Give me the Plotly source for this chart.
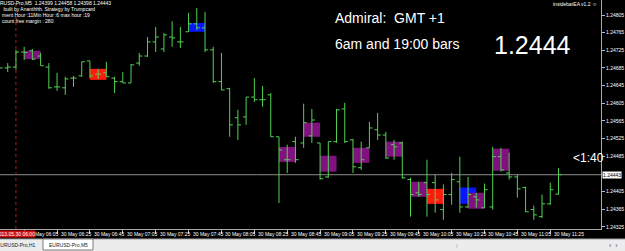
import plotly.graph_objects as go
import pandas as pd

# ---------------- data ----------------
bar_start = "2013-05-30 05:50"
n_bars = 69
opens = [1.24685, 1.24685, 1.24687, 1.24721, 1.24724, 1.24712, 1.24687, 1.24642, 1.24640, 1.24662,
         1.24667, 1.24701, 1.24671, 1.24674, 1.24662, 1.24654, 1.24651, 1.24696, 1.24712, 1.24744,
         1.24728, 1.24755, 1.24744, 1.24767, 1.24785, 1.24776, 1.24726, 1.24654, 1.24638, 1.24572,
         1.24574, 1.24619, 1.24613, 1.24624, 1.24529, 1.24477, 1.24518, 1.24515, 1.24531, 1.24515,
         1.24438, 1.24518, 1.24592, 1.24522, 1.24459, 1.24504, 1.24545, 1.24533, 1.24511, 1.24515,
         1.24432, 1.24402, 1.24425, 1.24425, 1.24364, 1.24398, 1.24427, 1.24370, 1.24393, 1.24368,
         1.24370, 1.24484, 1.24447, 1.24438, 1.24414, 1.24364, 1.24348, 1.24377, 1.24399]
highs = [1.24696, 1.24696, 1.24726, 1.24733, 1.24728, 1.24719, 1.24696, 1.24674, 1.24665, 1.24667,
         1.24699, 1.24701, 1.24683, 1.24699, 1.24665, 1.24676, 1.24694, 1.24719, 1.24755, 1.24778,
         1.24764, 1.24791, 1.24778, 1.24810, 1.24821, 1.24812, 1.24733, 1.24719, 1.24640, 1.24590,
         1.24619, 1.24662, 1.24644, 1.24628, 1.24529, 1.24511, 1.24529, 1.24604, 1.24592, 1.24515,
         1.24518, 1.24592, 1.24606, 1.24524, 1.24518, 1.24563, 1.24583, 1.24540, 1.24522, 1.24518,
         1.24436, 1.24427, 1.24477, 1.24443, 1.24421, 1.24447, 1.24484, 1.24438, 1.24402, 1.24423,
         1.24506, 1.24504, 1.24493, 1.24443, 1.24416, 1.24373, 1.24398, 1.24425, 1.24458]
lows = [1.24669, 1.24676, 1.24681, 1.24703, 1.24703, 1.24690, 1.24638, 1.24633, 1.24624, 1.24642,
        1.24665, 1.24662, 1.24660, 1.24665, 1.24628, 1.24651, 1.24651, 1.24690, 1.24710, 1.24721,
        1.24721, 1.24733, 1.24730, 1.24767, 1.24771, 1.24721, 1.24651, 1.24635, 1.24529, 1.24522,
        1.24556, 1.24608, 1.24597, 1.24529, 1.24379, 1.24447, 1.24470, 1.24504, 1.24515, 1.24432,
        1.24436, 1.24515, 1.24515, 1.24447, 1.24454, 1.24504, 1.24522, 1.24479, 1.24477, 1.24434,
        1.24348, 1.24393, 1.24348, 1.24357, 1.24341, 1.24375, 1.24357, 1.24368, 1.24368, 1.24368,
        1.24364, 1.24450, 1.24432, 1.24391, 1.24359, 1.24341, 1.24345, 1.24375, 1.24398]
closes = [1.24685, 1.24687, 1.24721, 1.24720, 1.24705, 1.24690, 1.24640, 1.24642, 1.24660, 1.24662,
          1.24699, 1.24667, 1.24671, 1.24665, 1.24654, 1.24651, 1.24692, 1.24712, 1.24744, 1.24755,
          1.24760, 1.24753, 1.24744, 1.24785, 1.24776, 1.24726, 1.24654, 1.24635, 1.24556, 1.24556,
          1.24619, 1.24613, 1.24613, 1.24529, 1.24499, 1.24477, 1.24477, 1.24561, 1.24567, 1.24434,
          1.24518, 1.24590, 1.24518, 1.24461, 1.24477, 1.24549, 1.24533, 1.24481, 1.24506, 1.24436,
          1.24398, 1.24398, 1.24398, 1.24386, 1.24398, 1.24432, 1.24370, 1.24398, 1.24386, 1.24409,
          1.24484, 1.24454, 1.24438, 1.24411, 1.24359, 1.24352, 1.24377, 1.24409, 1.24443]

# inside-bar boxes: start bar time, end bar time, top, bottom, colour
box_start = ["06:05", "06:45", "07:45", "08:40", "08:55", "09:05", "09:25", "09:45",
             "10:00", "10:10", "10:30", "10:35", "10:50"]
box_end = ["06:15", "06:55", "07:55", "08:50", "09:05", "09:15", "09:35", "09:55",
           "10:10", "10:20", "10:40", "10:45", "11:00"]
box_top = [1.24724, 1.24683, 1.24787, 1.24506, 1.24561, 1.24486, 1.24504, 1.24518,
           1.24427, 1.24411, 1.24414, 1.24402, 1.24502]
box_bottom = [1.24705, 1.24658, 1.24767, 1.24472, 1.24529, 1.24450, 1.24470, 1.24484,
              1.24393, 1.24377, 1.24377, 1.24366, 1.24452]
box_kind = ["purple", "red", "blue", "purple", "purple", "purple", "purple", "purple",
            "purple", "red", "blue", "purple", "purple"]

price_ticks = [1.24805, 1.24765, 1.24725, 1.24685, 1.24645, 1.24605, 1.24565, 1.24525,
               1.24485, 1.24405, 1.24365, 1.24325]
current_price = 1.24443
current_label = "1.24443"
time_ticks = ["06:05", "06:25", "06:45", "07:05", "07:25", "07:45", "08:05", "08:25", "08:45",
              "09:05", "09:25", "09:45", "10:05", "10:25", "10:45", "11:05", "11:25"]
time_tick_labels = ["30 May " + t for t in time_ticks]
vline_time = "06:00"
vline_label = "2013.05.30 06:00"
day = "2013-05-30 "

header_lines = ["EURUSD-Pro,M5  1.24399 1.24458 1.24398 1.24443",
                " built by Ananthhh. Strategy by Trumpcard",
                "ment Hour :11Min Hour :6 max hour :19",
                "count free margin : 280"]

# ---------------- figure ----------------
W, H = 625, 251
ML, MR, MT, MB = 0, 24, 0, 22
PW, PH = W - ML - MR, H - MT - MB


def px(x):
    return (x - ML) / PW


def py(y):
    return 1 - (y - MT) / PH


times = pd.date_range(bar_start, periods=n_bars, freq="5min")
green = "#52d352"

fig = go.Figure()
fig.add_trace(go.Ohlc(
    x=times, open=opens, high=highs, low=lows, close=closes,
    increasing=dict(line=dict(color=green, width=1)),
    decreasing=dict(line=dict(color=green, width=1)),
    tickwidth=0.38, showlegend=False, hoverinfo="skip"))

box_colors = {"purple": "#80117f", "red": "#ff1a10", "blue": "#0a14ff"}
shapes = []
for s, e, t, b, k in zip(box_start, box_end, box_top, box_bottom, box_kind):
    shapes.append(dict(type="rect", xref="x", yref="y", x0=day + s, x1=day + e,
                       y0=b, y1=t, xshift=0, fillcolor=box_colors[k], line=dict(width=0),
                       layer="below"))
# current price line
shapes.append(dict(type="line", xref="paper", yref="y", x0=0, x1=1,
                   y0=current_price, y1=current_price,
                   line=dict(color="#8c8c8c", width=1), layer="below"))
# vertical separator
shapes.append(dict(type="line", xref="x", yref="paper", x0=day + vline_time, x1=day + vline_time,
                   y0=0, y1=1, line=dict(color="#b01c1c", width=1, dash="dot"), layer="below"))
# bottom tab bar
shapes.append(dict(type="rect", xref="paper", yref="paper", x0=px(0), x1=px(W),
                   y0=py(H), y1=py(239), fillcolor="#ececec", line=dict(width=0)))
shapes.append(dict(type="line", xref="paper", yref="paper", x0=px(0), x1=px(W),
                   y0=py(239), y1=py(239), line=dict(color="#a0a0a0", width=1)))
# active tab
shapes.append(dict(type="rect", xref="paper", yref="paper", x0=px(43), x1=px(93),
                   y0=py(250), y1=py(239), fillcolor="#ffffff",
                   line=dict(color="#7a7a7a", width=1)))
for s in shapes:
    s.pop("xshift", None)

ann = []
font_small = dict(family="Liberation Sans, Arial", size=5, color="#ffffff")
for i, line in enumerate(header_lines):
    ann.append(dict(text=line, xref="paper", yref="paper", x=px(-9 if i == 0 else 0),
                    y=py(3 + 6 * i), xanchor="left", yanchor="middle", showarrow=False,
                    font=font_small))
ann.append(dict(text="insidebarEA v1.2 ☺", xref="paper", yref="paper", x=px(599), y=py(4),
                xanchor="right", yanchor="middle", showarrow=False, font=font_small))
big = dict(family="Liberation Sans, Arial", color="#ffffff")
ann.append(dict(text="Admiral:  GMT +1", xref="paper", yref="paper", x=px(333), y=py(18),
                xanchor="left", yanchor="middle", showarrow=False, font=dict(big, size=14)))
ann.append(dict(text="6am and 19:00 bars", xref="paper", yref="paper", x=px(333), y=py(44),
                xanchor="left", yanchor="middle", showarrow=False, font=dict(big, size=14)))
ann.append(dict(text="1.2444", xref="paper", yref="paper", x=px(492), y=py(45),
                xanchor="left", yanchor="middle", showarrow=False, font=dict(big, size=25)))
ann.append(dict(text="<1:40", xref="paper", yref="paper", x=px(571), y=py(158),
                xanchor="left", yanchor="middle", showarrow=False, font=dict(big, size=12)))
# current price label on axis
ann.append(dict(text=current_label, xref="paper", yref="y", x=px(602), y=current_price,
                xanchor="left", yanchor="middle", showarrow=False, bgcolor="#ffffff",
                borderpad=0, font=dict(family="Liberation Sans, Arial", size=5, color="#000000")))
# time labels (left aligned after tick)
for t, lab in zip(time_ticks, time_tick_labels):
    ann.append(dict(text=lab, xref="x", yref="paper", x=day + t, y=py(234), xshift=2,
                    xanchor="left", yanchor="middle", showarrow=False, font=font_small))
ann.append(dict(text=vline_label, xref="x", yref="paper", x=day + vline_time, y=py(234),
                xanchor="center", yanchor="middle", showarrow=False, bgcolor="#d01010",
                borderpad=0, font=dict(family="Liberation Sans, Arial", size=5, color="#ffffff")))
# tabs
tab_font = dict(family="Liberation Sans, Arial", size=5, color="#222222")
ann.append(dict(text="EURUSD-Pro,H1", xref="paper", yref="paper", x=px(-5), y=py(245),
                xanchor="left", yanchor="middle", showarrow=False, font=tab_font))
ann.append(dict(text="EURUSD-Pro,M5", xref="paper", yref="paper", x=px(68), y=py(245),
                xanchor="center", yanchor="middle", showarrow=False, font=tab_font))
ann.append(dict(text="‹  ›", xref="paper", yref="paper", x=px(613), y=py(245),
                xanchor="center", yanchor="middle", showarrow=False,
                font=dict(family="Liberation Sans, Arial", size=7, color="#555555")))
ann.append(dict(text="⁞", xref="paper", yref="paper", x=px(457), y=py(246),
                xanchor="center", yanchor="middle", showarrow=False,
                font=dict(family="Liberation Sans, Arial", size=6, color="#555555")))

fig.update_layout(
    width=W, height=H, margin=dict(l=ML, r=MR, t=MT, b=MB, pad=0),
    paper_bgcolor="#000000", plot_bgcolor="#000000",
    shapes=shapes, annotations=ann, showlegend=False,
    xaxis=dict(type="date", range=["2013-05-30 05:50:18", "2013-05-30 11:55:52"],
               rangeslider=dict(visible=False), showgrid=False, zeroline=False,
               tickvals=[day + t for t in time_ticks], showticklabels=False,
               ticks="outside", ticklen=4, tickcolor="#bbbbbb",
               showline=True, linecolor="#a8a8a8", linewidth=1, fixedrange=True),
    yaxis=dict(side="right", range=[1.24320, 1.24839], showgrid=False, zeroline=False,
               tickvals=price_ticks, ticktext=["%.5f" % v for v in price_ticks],
               ticks="outside", ticklen=3, tickcolor="#bbbbbb",
               tickfont=dict(family="Liberation Sans, Arial", size=5, color="#ffffff"),
               showline=True, linecolor="#a8a8a8", linewidth=1, fixedrange=True),
)

fig.write_html("out.html")
